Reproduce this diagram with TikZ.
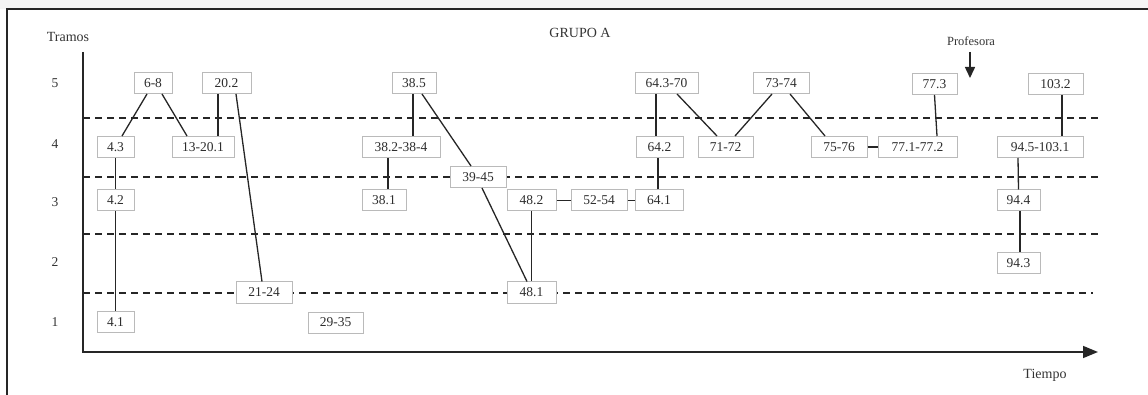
\documentclass[tikz,border=0pt]{standalone}
\usepackage{fontspec}
\setmainfont{Liberation Serif}
\usetikzlibrary{arrows.meta}
\begin{document}
\begin{tikzpicture}[x=1pt,y=-1pt,
  lbl/.style={font=\fontsize{13.5}{15}\selectfont, text=black!80, inner sep=0pt},
  box/.style={draw=black!27, fill=white, line width=1pt,
    font=\fontsize{13.5}{15}\selectfont, text=black!82,
    minimum height=21pt, inner sep=0pt},
  link/.style={draw=black!85, line width=1.3pt},
  level/.style={draw=black!85, line width=1.3pt, dash pattern=on 7pt off 5pt},
  axis/.style={draw=black!85, line width=1.5pt}]
\useasboundingbox (0,0) rectangle (1148,395);
% page frame
\fill[black!4] (0,0) rectangle (1148,9);
\coordinate (frameTR) at (1148,9);
\coordinate (frameTL) at (7,9);
\coordinate (frameBL) at (7,395);
\draw[line width=1.2pt, black!85] (frameTR) -- (frameTL) -- (frameBL);

% titles and axis labels
\node[lbl, font=\fontsize{14}{15}\selectfont] (tramos) at (68,37) {Tramos};
\node[lbl, font=\fontsize{14}{15}\selectfont] (grupo) at (580,33) {GRUPO A};
\node[lbl, font=\fontsize{12.5}{15}\selectfont] (prof) at (971,41) {Profesora};
\node[lbl, font=\fontsize{14}{15}\selectfont] (tiempo) at (1045,375) {Tiempo};
\node[lbl] (n5) at (55,83) {5};
\node[lbl] (n4) at (55,144) {4};
\node[lbl] (n3) at (55,202) {3};
\node[lbl] (n2) at (55,262) {2};
\node[lbl] (n1) at (55,322) {1};

% axes
\coordinate (ytop) at (83,52);
\coordinate (origin) at (83,352);
\coordinate (xend) at (1098,352);
\draw[axis, -{Triangle[length=15pt,width=12pt]}] (ytop) -- (origin) -- (xend);

% teacher marker
\coordinate (profA) at (970,52);
\coordinate (profB) at (970,78);
\draw[axis, -{Triangle[length=11pt,width=10pt]}] (profA) -- (profB);

% level separators
\foreach \yy/\xe [count=\i] in {118/1100, 177/1100, 234/1100, 293/1093} {
  \coordinate (ls\i) at (83,\yy);
  \coordinate (le\i) at (\xe,\yy);
  \draw[level] (ls\i) -- (le\i);
}

% episodes
\node[box, minimum width=38pt] (b68)   at (153,83)      {6-8};
\node[box, minimum width=49pt] (b202)  at (226.5,83)    {20.2};
\node[box, minimum width=37pt] (b43)   at (115.5,147)   {4.3};
\node[box, minimum width=62pt] (b1320) at (203,147)     {13-20.1};
\node[box, minimum width=37pt] (b42)   at (115.5,200.5) {4.2};
\node[box, minimum width=37pt] (b41)   at (115.5,322)   {4.1};
\node[box, minimum width=56pt] (b2124) at (264,292.5)   {21-24};
\node[box, minimum width=55pt] (b2935) at (335.5,322.5) {29-35};
\node[box, minimum width=44pt] (b385)  at (414,83)      {38.5};
\node[box, minimum width=78pt] (b382)  at (401,147)     {38.2-38-4};
\node[box, minimum width=44pt] (b381)  at (384,200.5)   {38.1};
\node[box, minimum width=56pt] (b3945) at (478,177)     {39-45};
\node[box, minimum width=49pt] (b482)  at (531.5,200.5) {48.2};
\node[box, minimum width=49pt] (b481)  at (531.5,292.5) {48.1};
\node[box, minimum width=56pt] (b5254) at (599,200.5)   {52-54};
\node[box, minimum width=48pt] (b641)  at (659,200.5)   {64.1};
\node[box, minimum width=47pt] (b642)  at (659.5,147)   {64.2};
\node[box, minimum width=63pt] (b643)  at (666.5,83)    {64.3-70};
\node[box, minimum width=55pt] (b7172) at (725.5,147)   {71-72};
\node[box, minimum width=56pt] (b7374) at (781,83)      {73-74};
\node[box, minimum width=56pt] (b7576) at (839,147)     {75-76};
\node[box, minimum width=79pt] (b771)  at (917.5,147)   {77.1-77.2};
\node[box, minimum width=45pt] (b773)  at (934.5,84)    {77.3};
\node[box, minimum width=55pt] (b1032) at (1055.5,84)   {103.2};
\node[box, minimum width=86pt] (b945)  at (1040,147)    {94.5-103.1};
\node[box, minimum width=43pt] (b944)  at (1018.5,200.5){94.4};
\node[box, minimum width=43pt] (b943)  at (1018.5,263.5){94.3};

% transitions
\draw[link] ([xshift=-6pt]b68.south) -- ([xshift=6.5pt]b43.north);
\draw[link] ([xshift=9pt]b68.south) -- ([xshift=-16pt]b1320.north);
\draw[link] ([xshift=-8.5pt]b202.south) -- ([xshift=15pt]b1320.north);
\draw[link] ([xshift=9.5pt]b202.south) -- ([xshift=-2pt]b2124.north);
\draw[link] (b43.south) -- (b42.north);
\draw[link] (b42.south) -- (b41.north);
\draw[link] ([xshift=-1pt]b385.south) -- ([xshift=12pt]b382.north);
\draw[link] ([xshift=8pt]b385.south) -- ([xshift=-7pt]b3945.north);
\draw[link] ([xshift=4pt]b3945.south) -- ([xshift=-4.5pt]b481.north);
\draw[link] ([xshift=-13pt]b382.south) -- ([xshift=4pt]b381.north);
\draw[link] (b482.south) -- (b481.north);
\draw[link] (b482.east) -- (b5254.west);
\draw[link] (b5254.east) -- (b641.west);
\draw[link] ([xshift=-1pt]b641.north) -- ([xshift=-1.5pt]b642.south);
\draw[link] ([xshift=-10.5pt]b643.south) -- ([xshift=-3.5pt]b642.north);
\draw[link] ([xshift=10.5pt]b643.south) -- ([xshift=-8.5pt]b7172.north);
\draw[link] ([xshift=-9pt]b7374.south) -- ([xshift=9.5pt]b7172.north);
\draw[link] ([xshift=9pt]b7374.south) -- ([xshift=-14pt]b7576.north);
\draw[link] (b7576.east) -- (b771.west);
\draw[link] (b773.south) -- ([xshift=19.5pt]b771.north);
\draw[link] ([xshift=6.5pt]b1032.south) -- ([xshift=22pt]b945.north);
\draw[link] ([xshift=-22pt]b945.south) -- (b944.north);
\draw[link] ([xshift=1.5pt]b944.south) -- ([xshift=1.5pt]b943.north);
\end{tikzpicture}
\end{document}
